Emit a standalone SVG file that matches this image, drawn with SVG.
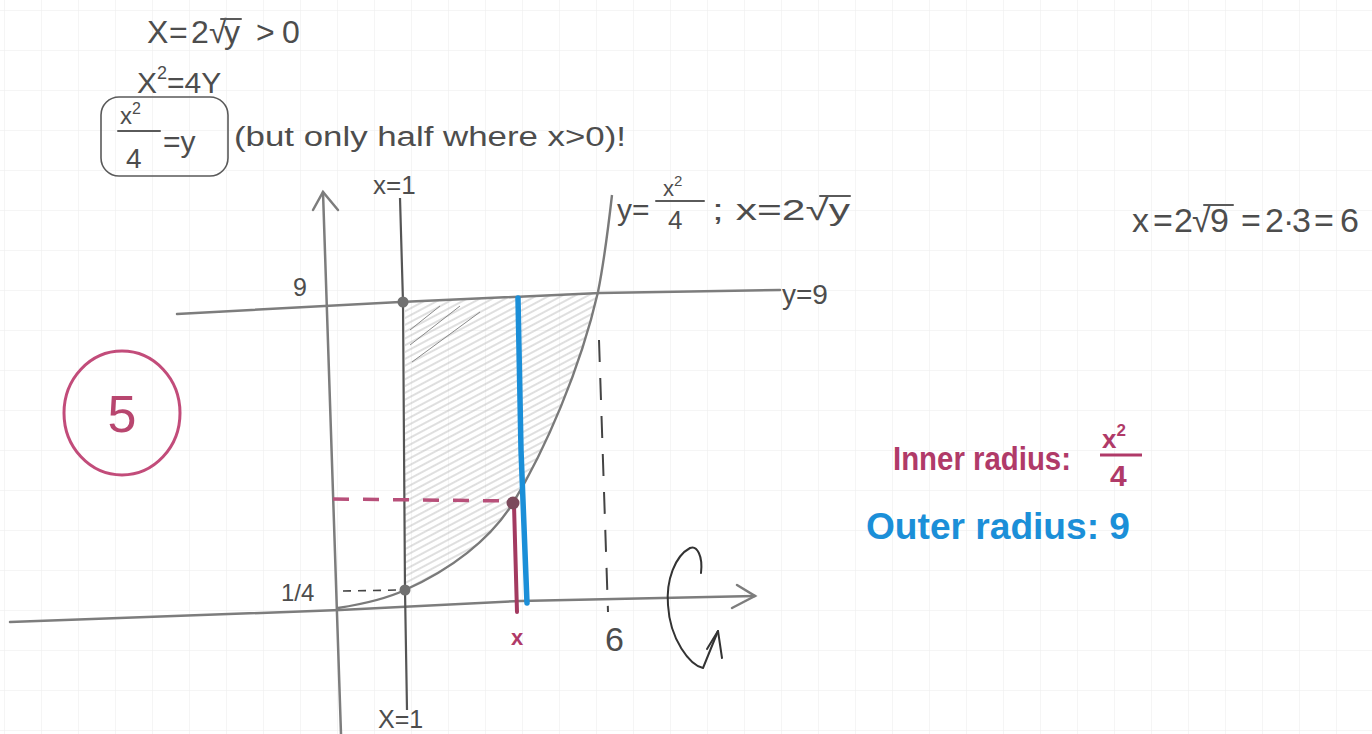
<svg xmlns="http://www.w3.org/2000/svg" width="1372" height="734" viewBox="0 0 1372 734">
<defs>
<pattern id="grid" width="37" height="40" patternUnits="userSpaceOnUse" x="4" y="10">
<path d="M0,0 L37,0 M0,0 L0,40" fill="none" stroke="#ececec" stroke-width="1"/>
</pattern>
<pattern id="hatch" width="6" height="6" patternUnits="userSpaceOnUse" patternTransform="rotate(-28)">
<line x1="0" y1="3" x2="6" y2="3" stroke="#b8b8b8" stroke-width="0.9"/>
</pattern>
<style>
.pen{font-family:"Liberation Sans",Arial,sans-serif;fill:#4d4d4d}
.pencil{fill:none;stroke:#5a5a5a;stroke-width:2;stroke-linecap:round}
.axis{fill:none;stroke:#7d7d7d;stroke-width:2.5;stroke-linecap:round}
.red{fill:#b03a68;font-family:"Liberation Sans",Arial,sans-serif}
.blue{fill:#1b8fd8;font-family:"Liberation Sans",Arial,sans-serif}
</style>
</defs>
<rect width="1372" height="734" fill="#ffffff"/>
<rect width="1372" height="734" fill="url(#grid)"/>

<g id="work-top">
<text class="pen" y="43" font-size="32"><tspan x="147">X</tspan><tspan x="169">=</tspan><tspan x="191">2</tspan><tspan x="209">√</tspan><tspan x="224">y</tspan><tspan x="256">&gt;</tspan><tspan x="282">0</tspan></text>
<line class="pencil" x1="221" y1="19" x2="241" y2="19" stroke-width="1.6"/>
<text class="pen" x="137" y="93" font-size="30">X<tspan font-size="18" dy="-14">2</tspan><tspan dy="14">=4Y</tspan></text>
<rect x="101" y="97" width="127" height="79" rx="18" fill="none" stroke="#5a5a5a" stroke-width="1.6"/>
<text class="pen" x="120" y="124" font-size="24">x<tspan font-size="16" dy="-10">2</tspan></text>
<line class="pencil" x1="118" y1="131" x2="160" y2="131"/>
<text class="pen" x="126" y="168" font-size="28">4</text>
<text class="pen" x="163" y="152" font-size="30">=y</text>
<text class="pen" x="234" y="146" font-size="27" textLength="392" lengthAdjust="spacingAndGlyphs">(but only half where x&gt;0)!</text>
</g>

<g id="label-five">
<ellipse cx="122" cy="413" rx="58" ry="62" fill="none" stroke="#c24c7a" stroke-width="3"/>
<text x="122" y="432" font-size="52" text-anchor="middle" font-family="Liberation Sans,Arial,sans-serif" fill="#b8466f">5</text>
</g>

<g id="region">
<path d="M405,302 L598,292 C580,370 545,450 513,503 C490,540 450,570 405,590 Z" fill="url(#hatch)"/>
<path d="M410,330 L440,306 M410,345 L460,306 M412,362 L480,312" stroke="#8a8a8a" stroke-width="1" fill="none"/>
</g>

<g id="connectors">
<path class="axis" d="M323,192 L341,734"/>
<path class="axis" d="M313,210 L323,192 L338,210"/>
<path class="axis" d="M177,314 L400,302 L600,293 L780,290"/>
<path class="axis" d="M10,622 L340,610 L520,601 L755,596"/>
<path class="axis" d="M737,585 L755,596 L732,608"/>
<path d="M400,198 L403,302 L405,590 L407,710" fill="none" stroke="#555" stroke-width="2.2"/>
<path d="M338,608 C370,603 390,597 405,590 C450,570 490,540 513,503 C545,450 580,370 598,292 C604,262 608,230 612,195" fill="none" stroke="#7a7a7a" stroke-width="2.4"/>
<path d="M599,340 L608,612" fill="none" stroke="#444" stroke-width="2" stroke-dasharray="22 16"/>
<path d="M343,591 L400,590" fill="none" stroke="#444" stroke-width="1.6" stroke-dasharray="8 7"/>
<path d="M333,499 L511,501" fill="none" stroke="#b8507a" stroke-width="3.5" stroke-dasharray="16 14"/>
<path d="M518,298 L521,450 L527,603" fill="none" stroke="#1b8fd8" stroke-width="5.5" stroke-linecap="round"/>
<path d="M514,505 L517,612" fill="none" stroke="#a33a60" stroke-width="4" stroke-linecap="round"/>
<circle cx="403" cy="302" r="5.5" fill="#707070"/>
<circle cx="405" cy="590" r="5.5" fill="#707070"/>
<circle cx="513" cy="503" r="6.5" fill="#7c4a5c"/>
<path d="M701,573 C703,556 697,545 690,548 C675,556 666,580 668,605 C670,640 690,665 703,668 L718,631" fill="none" stroke="#333" stroke-width="2" stroke-linecap="round" stroke-linejoin="round"/>
<path d="M707,649 L718,631 L722,658" fill="none" stroke="#333" stroke-width="2" stroke-linecap="round" stroke-linejoin="round"/>
</g>

<g id="graph-labels">
<text class="pen" x="373" y="194" font-size="26">x=1</text>
<text class="pen" x="378" y="728" font-size="25">X=1</text>
<text class="pen" x="293" y="296" font-size="25">9</text>
<text class="pen" x="281" y="601" font-size="24">1/4</text>
<text class="pen" x="782" y="304" font-size="28">y=9</text>
<text class="pen" x="605" y="651" font-size="34">6</text>
<text class="red" x="511" y="645" font-size="22" font-weight="bold">x</text>
<text class="pen" x="617" y="220" font-size="30">y=</text>
<text class="pen" x="663" y="196" font-size="22">x<tspan font-size="15" dy="-10">2</tspan></text>
<line class="pencil" x1="656" y1="201" x2="704" y2="201"/>
<text class="pen" x="668" y="229" font-size="26">4</text>
<text class="pen" x="712" y="220" font-size="30" textLength="138" lengthAdjust="spacingAndGlyphs">; x=2√y</text>
<line class="pencil" x1="820" y1="196" x2="850" y2="196" stroke-width="1.6"/>
</g>

<g id="notes-right">
<text class="pen" y="232" font-size="34"><tspan x="1132">x</tspan><tspan x="1153">=</tspan><tspan x="1174">2</tspan><tspan x="1192">√</tspan><tspan x="1210">9</tspan><tspan x="1241">=</tspan><tspan x="1265">2</tspan><tspan x="1283">·</tspan><tspan x="1292">3</tspan><tspan x="1314">=</tspan><tspan x="1340">6</tspan></text>
<line class="pencil" x1="1204" y1="205" x2="1233" y2="205" stroke-width="1.8"/>
<text class="red" x="893" y="470" font-size="34" font-weight="bold" textLength="178" lengthAdjust="spacingAndGlyphs">Inner radius:</text>
<text class="red" x="1102" y="448" font-size="26" font-weight="bold">x<tspan font-size="17" dy="-12">2</tspan></text>
<line x1="1100" y1="455" x2="1142" y2="455" stroke="#b03a68" stroke-width="3"/>
<text class="red" x="1110" y="486" font-size="30" font-weight="bold">4</text>
<text class="blue" x="866" y="539" font-size="36" font-weight="bold" textLength="264" lengthAdjust="spacingAndGlyphs">Outer radius: 9</text>
</g>
</svg>
